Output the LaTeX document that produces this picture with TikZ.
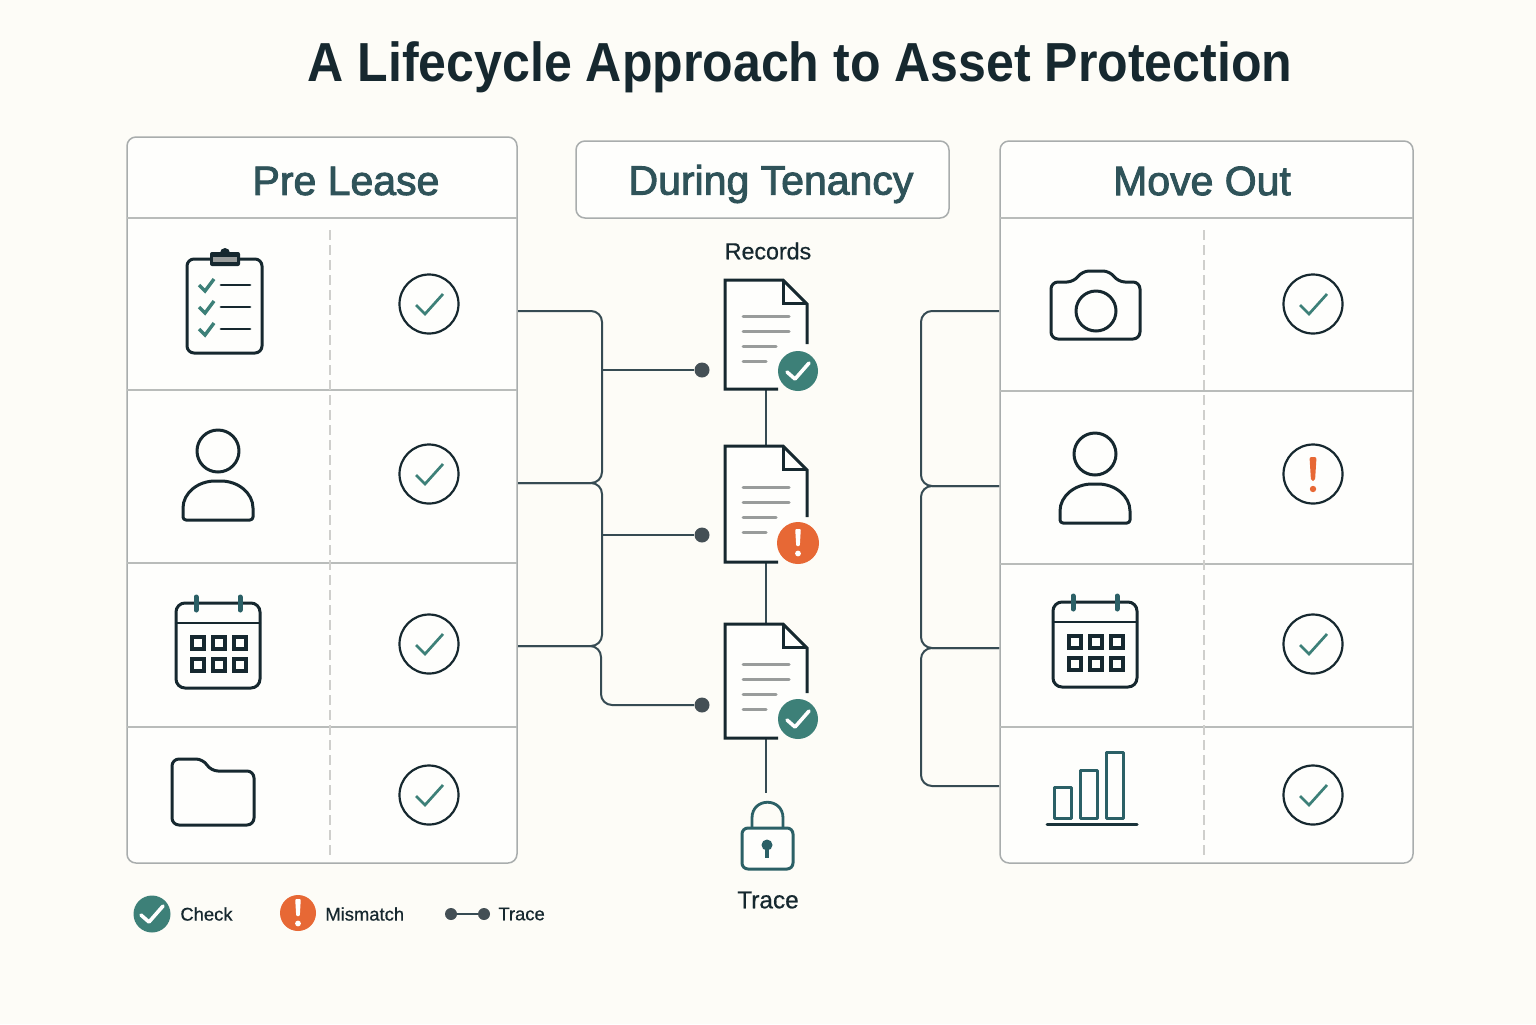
\documentclass[tikz,border=0pt]{standalone}
\usepackage{fontspec}
\setmainfont{Liberation Sans}
\newfontfamily\medfont[FakeBold=0.6]{Liberation Sans}
\newfontfamily\semifont[FakeBold=2.2]{Liberation Sans}
\usetikzlibrary{calc}
\definecolor{paper}{HTML}{FDFCF7}
\definecolor{panelcol}{HTML}{FEFEFC}
\definecolor{edgecol}{HTML}{A9ADAD}
\definecolor{rowcol}{HTML}{B9BCBA}
\definecolor{dashcol}{HTML}{CFCFCC}
\definecolor{ink}{HTML}{16282F}
\definecolor{headcol}{HTML}{2F5359}
\definecolor{wirecol}{HTML}{364B53}
\definecolor{dotcol}{HTML}{444F55}
\definecolor{tealcol}{HTML}{3D8078}
\definecolor{darkteal}{HTML}{2B6066}
\definecolor{orangecol}{HTML}{E76835}
\definecolor{linecol}{HTML}{999C9B}
\tikzset{
  panel/.style={draw=edgecol,line width=0.75pt,fill=panelcol,rounded corners=4.5pt,
                inner sep=0pt,outer sep=0pt},
  rowline/.style={rowcol,line width=0.55pt},
  dashline/.style={dashcol,line width=0.7pt,dash pattern=on 5pt off 2.5pt},
  wire/.style={wirecol,line width=1pt,rounded corners=5.5pt},
  dot/.style={circle,fill=dotcol,inner sep=0pt,minimum size=7.5pt},
  icon/.style={ink,line width=1.5pt,line join=round,line cap=round},
  head/.style={headcol,font=\fontsize{20.5}{24}\semifont},
  lab/.style={ink,font=\fontsize{11.6}{14}\medfont},
  leglab/.style={ink,font=\fontsize{9.2}{12}\medfont,anchor=west,inner sep=0pt},
  % ok mark in a ring
  ring check/.pic={
    \draw[ink,line width=1.1pt] (0,0) circle (29.5);
    \draw[tealcol,line width=1.35pt,line join=miter] (-13,1) -- (-4,10) -- (14,-10);
  },
  ring warn/.pic={
    \draw[ink,line width=1.1pt] (0,0) circle (29.5);
    \fill[orangecol,rounded corners=1pt] (-3.5,-17) -- (3.5,-17) -- (2,7) -- (-2,7) -- cycle;
    \fill[orangecol] (0,15) circle (3.2);
  },
  % filled badges
  badge check/.pic={
    \fill[tealcol] (0,0) circle (#1);
    \draw[white,line width=1.8pt,line join=round,line cap=round] (-11,1) -- (-3,8) -- (11,-8);
  },
  badge warn/.pic={
    \fill[orangecol] (0,0) circle (#1);
    \fill[white,rounded corners=0.5pt] (-2.8,-14) -- (2.8,-14) -- (1.8,3) -- (-1.8,3) -- cycle;
    \fill[white] (0,10.5) circle (2.9);
  },
  % paper sheet, origin top left
  sheet/.pic={
    \fill[panelcol] (0,0) -- (58,0) -- (82,24) -- (82,#1-20) -- (50,#1) -- (0,#1) -- cycle;
    \draw[icon,line cap=butt,line join=miter] (82,#1-45) -- (82,24) -- (58,0) -- (0,0) -- (0,#1) -- (53,#1);
    \draw[icon,line cap=butt,line join=miter] (58,0) -- (58,23) -- (82,23);
    \foreach \y/\l in {0/46,15/46,30/33,45/23}{
      \draw[linecol,line width=1.5pt,line cap=round] (18,\y+#1*0.72-42) -- ++(\l,0);
    }
  },
  person/.pic={
    \draw[icon] (0,0) circle (21);
    \draw[icon,rounded corners=1.5pt] (-35,69) -- (-35,60) .. controls (-35,42) and (-20,30) .. (0,30)
      .. controls (20,30) and (35,42) .. (35,60) -- (35,69) -- cycle;
  },
  calendar/.pic={
    \draw[icon,rounded corners=4.5pt] (0,8) rectangle (84,93);
    \draw[icon,line width=1.2pt] (0,28) -- (84,28);
    \foreach \x in {20,64}{
      \draw[icon,line width=2.5pt,draw=darkteal] (\x,2) -- (\x,15);
    }
    \foreach \x in {22,43,64}{
      \foreach \y in {48,70}{
        \draw[icon,line width=1.7pt,line join=miter] (\x-6,\y-6) rectangle (\x+6,\y+6);
      }
    }
  },
}
\begin{document}
\begin{tikzpicture}[x=0.5pt,y=-0.5pt]
  \useasboundingbox (0,0) rectangle (1536,1024);
  \fill[paper] (0,0) rectangle (1536,1024);

  % PANELS
  \path[panel] (127,137) rectangle (517,863);
  \path[panel] (576,141) rectangle (949,218);
  \path[panel] (1000,141) rectangle (1413,863);
  \node[ink,font=\fontsize{27.5}{30}\selectfont\bfseries] (title) at (800,67) {\scalebox{0.91}[1]{A Lifecycle Approach to Asset Protection}};
  \node[head] (pre) at (346,181) {Pre Lease};
  \node[head] (during) at (771,184) {During Tenancy};
  \node[head] (moveout) at (1202,181) {Move Out};

  % ROWS
  \foreach \y in {218,390,563,727}{
    \draw[rowline] (127,\y) -- (517,\y);
  }
  \foreach \y in {218,391,564,727}{
    \draw[rowline] (1000,\y) -- (1413,\y);
  }
  \draw[dashline] (330,230) -- (330,855);
  \draw[dashline] (1204,230) -- (1204,855);

  % STATUS
  \foreach \x/\y in {429/304,429/474,429/644,429/795,1313/304,1313/644,1313/795}{
    \pic at (\x,\y) {ring check};
  }
  \pic at (1313,474) {ring warn};

  % LEFT ICONS
  \draw[icon,rounded corners=3.5pt] (187,259) rectangle (262,353);
  \fill[ink,rounded corners=1pt] (210,252) rectangle (240,266);
  \fill[ink] (225,253) circle (5);
  \fill[linecol] (213,257) rectangle (237,262);
  \foreach \y in {285,307,329}{
    \draw[tealcol,line width=1.7pt,line join=miter] (199,\y) -- (205,\y+6) -- (214,\y-6);
    \draw[ink,line width=1.4pt,line cap=round] (221,\y) -- (250,\y);
  }
  \pic at (218,451) {person};
  \pic at (176,595) {calendar};
  \draw[icon,rounded corners=3.5pt] (172,759) -- (203,759) -- (211,771) -- (254,771) -- (254,825) -- (172,825) -- cycle;

  % RIGHT ICONS
  \draw[icon,rounded corners=3.5pt] (1051,282) -- (1074,282) -- (1082,271) -- (1110,271) -- (1118,282)
    -- (1140,282) -- (1140,339) -- (1051,339) -- cycle;
  \draw[icon] (1096,311) circle (20);
  \pic at (1095,454) {person};
  \pic at (1053,594) {calendar};
  \foreach \x/\y in {1054/787,1080/770,1106/752}{
    \draw[darkteal,line width=1.5pt,line join=round] (\x,\y) -- (\x+17,\y) -- (\x+17,818) -- (\x,818) -- cycle;
  }
  \draw[ink!80!darkteal,line width=1.5pt,line cap=round] (1047,824) -- (1137,824);

  % RECORDS
  \node[lab] (records) at (768,251) {Records};
  \node[lab,font=\fontsize{12.2}{15}\medfont] (trace) at (768,900) {Trace};
  \coordinate (DA) at (766,389);
  \coordinate (DB) at (766,446);
  \coordinate (DC) at (766,562);
  \coordinate (DD) at (766,624);
  \coordinate (DE) at (766,738);
  \coordinate (LK) at (766,793);
  \draw[wirecol,line width=1.1pt] (DA) -- (DB);
  \draw[wirecol,line width=1.1pt] (DC) -- (DD);
  \draw[wirecol,line width=1.1pt] (DE) -- (LK);
  \pic at (725,280) {sheet=109};
  \pic at (725,446) {sheet=116};
  \pic at (725,624) {sheet=114};
  \pic at (798,371) {badge check=20};
  \pic at (798,543) {badge warn=21};
  \pic at (798,719) {badge check=20};

  % LOCK
  \draw[darkteal,line width=1.4pt] (752,828) -- (752,818) .. controls (752,797) and (783,797) .. (783,818) -- (783,828);
  \draw[darkteal,line width=1.5pt,fill=panelcol,rounded corners=3pt] (742,828) rectangle (793,869);
  \fill[darkteal] (767,845) circle (5.5);
  \draw[darkteal,line width=2.2pt] (767,845) -- (767,858);

  % LEFT WIRES
  \coordinate (LA) at (518,311);
  \coordinate (LB) at (518,483);
  \coordinate (LC) at (518,646);
  \node[dot] (dotA) at (702,370) {};
  \node[dot] (dotB) at (702,535) {};
  \node[dot] (dotC) at (702,705) {};
  \draw[wire] (LA) -- (602,311) -- (602,483) -- (LB);
  \draw[wire] (LB) -- (602,483) -- (602,646) -- (LC);
  \draw[wire] (LC) -- (601,646) -- (601,705) -- (dotC);
  \draw[wire] (602,370) -- (dotA);
  \draw[wire] (602,535) -- (dotB);

  % RIGHT WIRES
  \coordinate (RA) at (999,311);
  \coordinate (RB) at (999,486);
  \coordinate (RC) at (999,648);
  \coordinate (RD) at (999,786);
  \draw[wire] (RA) -- (921,311) -- (921,486) -- (RB);
  \draw[wire] (RB) -- (921,486) -- (921,648) -- (RC);
  \draw[wire] (RC) -- (921,648) -- (921,786) -- (RD);

  % LEGEND
  \pic at (152,914) {badge check=18.5};
  \pic at (298,913) {badge warn=18};
  \node[leglab] (lcheck) at (180,914) {Check};
  \node[leglab] (lmis) at (325,914) {Mismatch};
  \node[leglab] (ltrace) at (498,914) {Trace};
  \node[dot,minimum size=6pt] (legA) at (451,914) {};
  \node[dot,minimum size=6pt] (legB) at (484,914) {};
  \draw[wirecol,line width=1pt] (legA) -- (legB);
\end{tikzpicture}
\end{document}
